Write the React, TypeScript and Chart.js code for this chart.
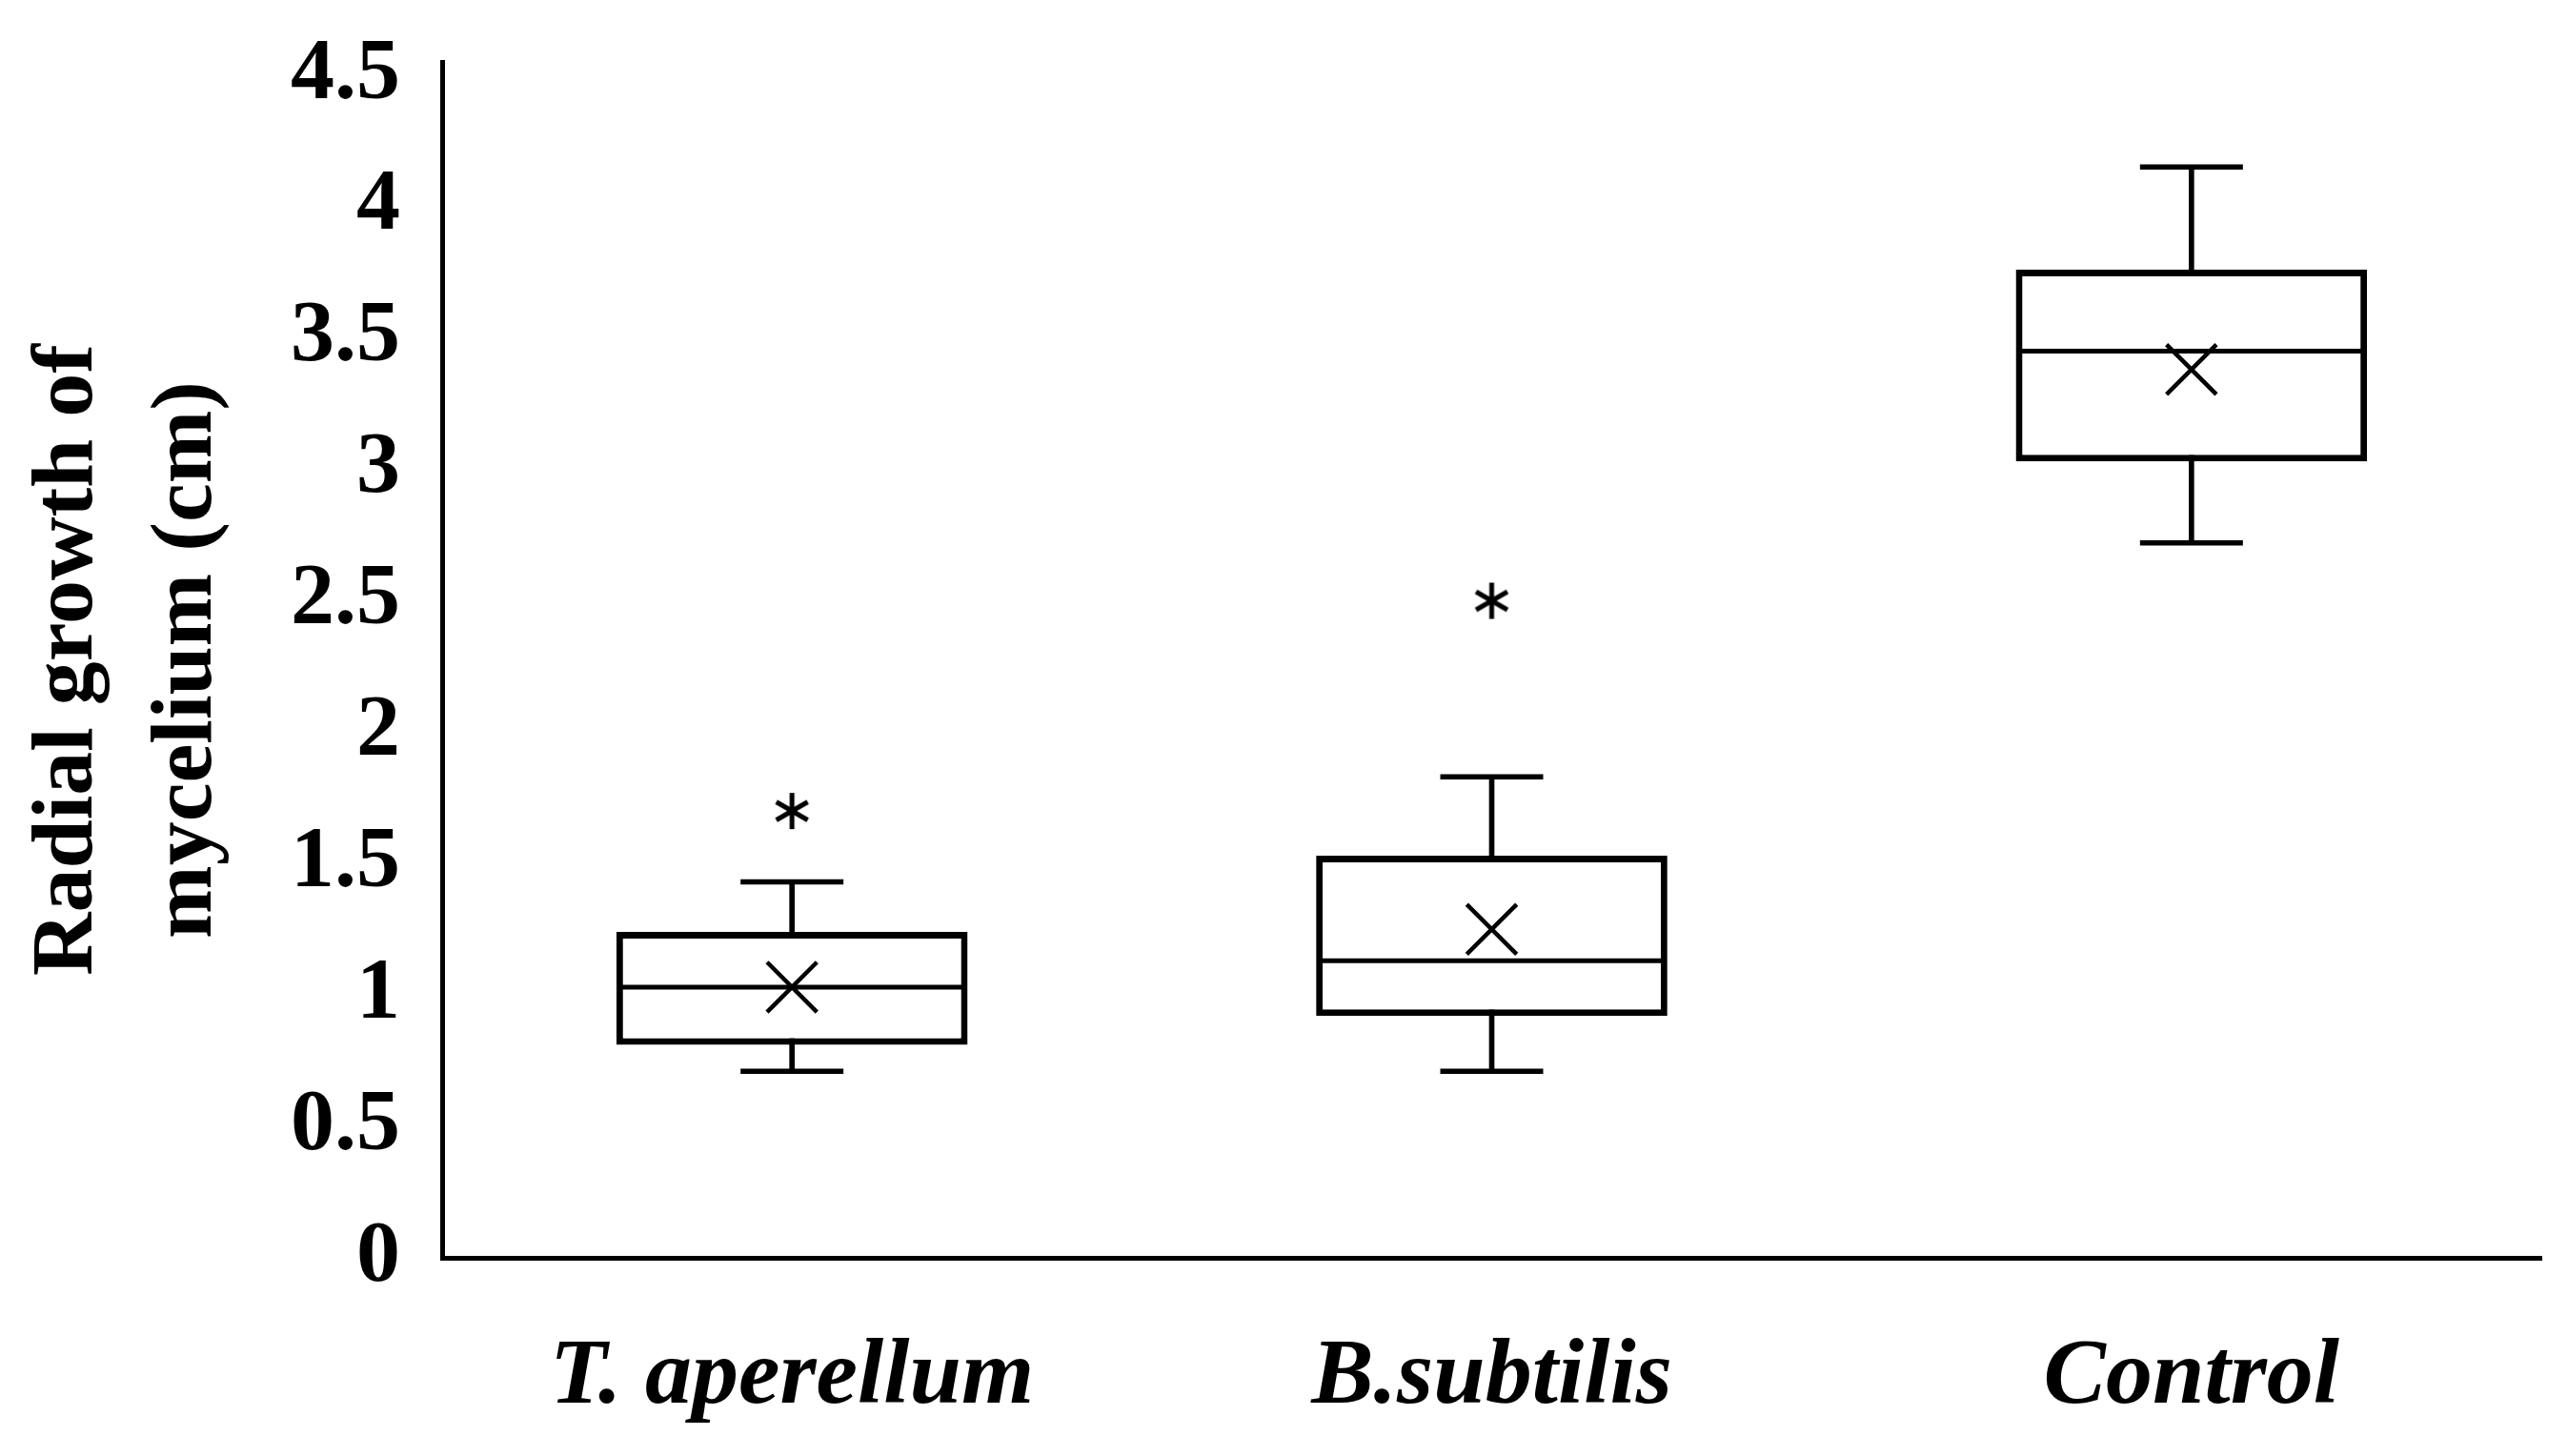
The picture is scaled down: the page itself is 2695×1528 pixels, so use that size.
import React, { useEffect, useRef } from "react";
import { Chart, registerables } from "chart.js";

Chart.register(...registerables);

const categories = ["T. aperellum", "B.subtilis", "Control"];
const whiskerLow = [0.71, 0.71, 2.72];
const quartile1 = [0.81, 0.92, 3.03];
const medians = [1.03, 1.13, 3.45];
const quartile3 = [1.24, 1.53, 3.76];
const whiskerHigh = [1.43, 1.83, 4.15];
const means = [1.03, 1.25, 3.38];
const outliers: (number | null)[] = [1.7, 2.5, null];
const yTickValues = [0, 0.5, 1, 1.5, 2, 2.5, 3, 3.5, 4, 4.5];
const yTickLabels = ["0", "0.5", "1", "1.5", "2", "2.5", "3", "3.5", "4", "4.5"];
const yTitle = ["Radial growth of", "mycelium (cm)"];

function makeAsterisk(): HTMLCanvasElement {
  const c = document.createElement("canvas");
  c.width = 48;
  c.height = 48;
  const ctx = c.getContext("2d")!;
  ctx.strokeStyle = "#000";
  ctx.lineWidth = 5;
  ctx.lineCap = "butt";
  const r = 19;
  for (let k = 0; k < 3; k++) {
    const a = Math.PI / 2 + (k * Math.PI) / 3;
    ctx.beginPath();
    ctx.moveTo(24 + Math.cos(a) * r, 24 + Math.sin(a) * r);
    ctx.lineTo(24 - Math.cos(a) * r, 24 - Math.sin(a) * r);
    ctx.stroke();
  }
  return c;
}

export default function App() {
  const ref = useRef<HTMLCanvasElement | null>(null);

  useEffect(() => {
    if (!ref.current) return;
    const star = makeAsterisk();
    const serif = '"Liberation Serif", "Times New Roman", serif';
    const chart = new Chart(ref.current, {
      type: "bar",
      data: {
        labels: categories,
        datasets: [
          {
            type: "bar",
            label: "whisker",
            data: categories.map((_, i) => [whiskerLow[i], whiskerHigh[i]]) as any,
            backgroundColor: "#000",
            borderWidth: 0,
            barThickness: 5,
            grouped: false,
            order: 6,
          } as any,
          {
            type: "bar",
            label: "box",
            data: categories.map((_, i) => [quartile1[i], quartile3[i]]) as any,
            backgroundColor: "#fff",
            borderColor: "#000",
            borderWidth: 7,
            borderSkipped: false,
            barPercentage: 0.502,
            categoryPercentage: 1,
            grouped: false,
            order: 5,
          } as any,
          {
            type: "line",
            label: "capHigh",
            data: whiskerHigh,
            showLine: false,
            pointStyle: "line",
            pointRadius: 54,
            pointBorderWidth: 5.5,
            pointBorderColor: "#000",
            order: 4,
          } as any,
          {
            type: "line",
            label: "capLow",
            data: whiskerLow,
            showLine: false,
            pointStyle: "line",
            pointRadius: 54,
            pointBorderWidth: 5.5,
            pointBorderColor: "#000",
            order: 4,
          } as any,
          {
            type: "line",
            label: "median",
            data: medians,
            showLine: false,
            pointStyle: "line",
            pointRadius: 180,
            pointBorderWidth: 5,
            pointBorderColor: "#000",
            order: 3,
          } as any,
          {
            type: "line",
            label: "mean",
            data: means,
            showLine: false,
            pointStyle: "crossRot",
            pointRadius: 37,
            pointBorderWidth: 4.5,
            pointBorderColor: "#000",
            order: 2,
          } as any,
          {
            type: "line",
            label: "outlier",
            data: outliers,
            showLine: false,
            pointStyle: star,
            pointRadius: 20,
            order: 1,
          } as any,
        ],
      },
      options: {
        responsive: false,
        animation: false,
        events: [],
        devicePixelRatio: 1,
        layout: { autoPadding: false, padding: { top: 65, right: 28, left: 0, bottom: 0 } },
        plugins: {
          legend: { display: false },
          tooltip: { enabled: false },
        },
        scales: {
          x: {
            grid: { display: false, drawTicks: false },
            border: { display: true, color: "#000", width: 5 },
            ticks: {
              color: "#000",
              padding: 68,
              font: { family: serif, size: 98, weight: "bold", style: "italic" },
            },
            afterFit: (s: any) => {
              s.height = 208;
              s.paddingLeft = 0;
              s.paddingRight = 0;
            },
          },
          y: {
            min: 0,
            max: 4.55,
            grid: { display: false, drawTicks: false },
            border: { display: true, color: "#000", width: 5 },
            afterBuildTicks: (s: any) => {
              s.ticks = yTickValues.map((v) => ({ value: v }));
            },
            ticks: {
              color: "#000",
              padding: 44,
              font: { family: serif, size: 92, weight: "bold" },
              callback: (_v: any, i: number) => yTickLabels[i],
            },
            title: {
              display: true,
              text: yTitle,
              color: "#000",
              padding: { top: 10, bottom: 0 },
              font: { family: serif, size: 92, weight: "bold", lineHeight: 1.36 },
            },
            afterFit: (s: any) => {
              s.width = 464;
              s.paddingTop = 0;
              s.paddingBottom = 0;
            },
          },
        },
      } as any,
    });
    return () => chart.destroy();
  }, []);

  return (
    <div style={{ position: "fixed", left: 0, top: 0, width: 2695, height: 1528, background: "#fff" }}>
      <canvas ref={ref} width={2695} height={1528} style={{ display: "block" }} />
    </div>
  );
}
